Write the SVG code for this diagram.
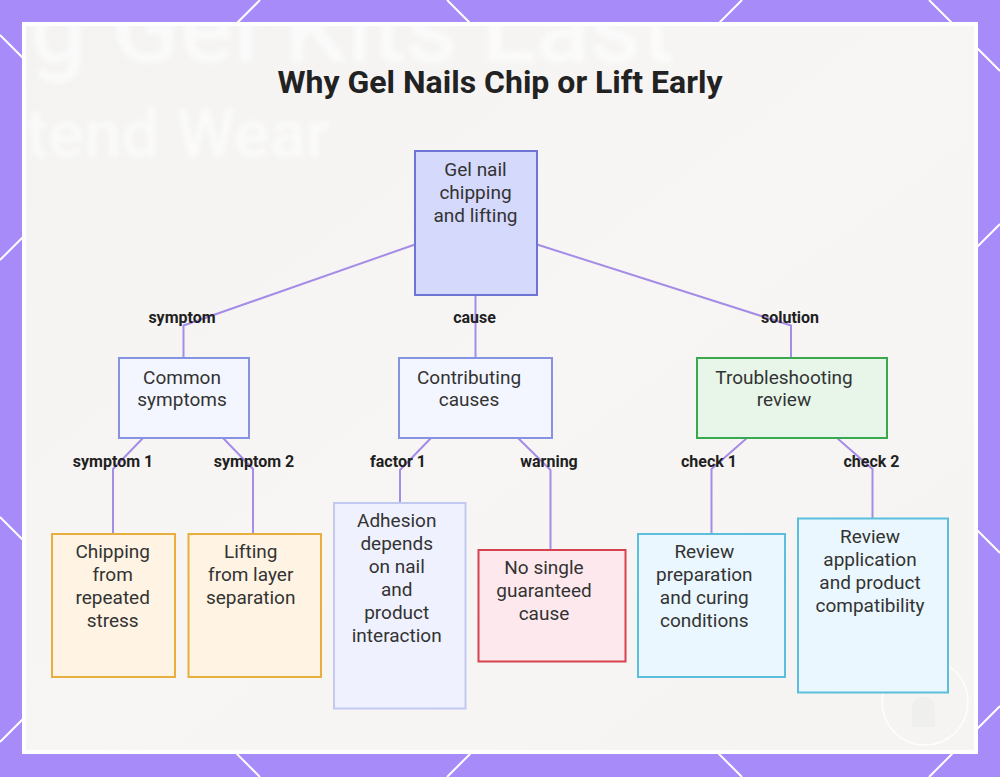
<svg xmlns="http://www.w3.org/2000/svg" width="1000" height="777" viewBox="0 0 1000 777">
<defs>
<style>
.bgline{stroke:#ffffff;stroke-width:2;fill:none}
.node rect{stroke-width:2}
.nt{font-family:Roboto,"Liberation Sans",sans-serif;font-size:19px;fill:#333333;text-anchor:middle}
.lbl{font-family:Roboto,"Liberation Sans",sans-serif;font-size:16px;font-weight:bold;fill:#1f1f1f;text-anchor:middle}
.conn{stroke:#a58ce6;stroke-width:2;fill:none;stroke-linejoin:round}
.root rect{fill:#d5d9fb;stroke:#6d74d6}
.mid rect{fill:#f4f6ff;stroke:#8593e0}
.green rect{fill:#e7f6e9;stroke:#3aa84e}
.amber rect{fill:#fff3e3;stroke:#e8ae3e}
.lav rect{fill:#eff1fe;stroke:#c2caf2}
.red rect{fill:#fde9ed;stroke:#d8424f}
.cyan rect{fill:#eaf7fe;stroke:#5bbfdc}
.ghost{font-family:Roboto,"Liberation Sans",sans-serif;font-weight:500;fill:#ffffff}
</style>
<clipPath id="panelClip"><rect x="26" y="26" width="948" height="724"/></clipPath>
<filter id="soft" x="-5%" y="-20%" width="110%" height="140%"><feGaussianBlur stdDeviation="2.5"/></filter>
<linearGradient id="bgGrad" x1="0" y1="0" x2="1" y2="1">
<stop offset="0" stop-color="#f4f3f2"/>
<stop offset="0.5" stop-color="#f7f6f5"/>
<stop offset="1" stop-color="#f5f4f3"/>
</linearGradient>
</defs>

<g id="background">
<rect x="0" y="0" width="1000" height="777" fill="#a78bf8"/>
<line class="bgline" x1="0" y1="260" x2="260" y2="0"/>
<line class="bgline" x1="0" y1="742" x2="742" y2="0"/>
<line class="bgline" x1="447" y1="777" x2="1000" y2="224"/>
<line class="bgline" x1="929" y1="777" x2="1000" y2="706"/>
<line class="bgline" x1="0" y1="35" x2="742" y2="777"/>
<line class="bgline" x1="0" y1="517" x2="260" y2="777"/>
<line class="bgline" x1="447" y1="0" x2="1000" y2="553"/>
<line class="bgline" x1="929" y1="0" x2="1000" y2="71"/>
<rect x="22" y="22" width="956" height="732" fill="#ffffff"/>
<rect x="26" y="26" width="948" height="724" fill="url(#bgGrad)"/>
<g clip-path="url(#panelClip)" filter="url(#soft)" opacity="0.6">
<text class="ghost" x="30" y="62" font-size="100">g Gel Kits Last</text>
<text class="ghost" x="26" y="157" font-size="67">tend Wear</text>
</g>
<g opacity="0.9">
<circle cx="925" cy="702" r="43" fill="none" stroke="#ffffff" stroke-width="1.5"/>
<path d="M905 690 A22 22 0 0 1 945 690" fill="none" stroke="#ffffff" stroke-width="1.5"/>
<path d="M912 727 V708 A11.5 11.5 0 0 1 935 708 V727 Z" fill="#efefee"/>
</g>
</g>

<text id="title" x="500" y="93" font-family="Roboto,'Liberation Sans',sans-serif" font-size="32" font-weight="bold" fill="#222222" text-anchor="middle">Why Gel Nails Chip or Lift Early</text>

<g id="connectors">
<polyline class="conn" points="415,244.5 183.5,325.5 183.5,358"/>
<polyline class="conn" points="475.5,295 475.5,358"/>
<polyline class="conn" points="537,244.5 791,325.5 791,358"/>
<polyline class="conn" points="143,438 113,469 113,533"/>
<polyline class="conn" points="223,438 253,469 253,533"/>
<polyline class="conn" points="431,438 400,470 400,502"/>
<polyline class="conn" points="518,438 550.5,470 550.5,549"/>
<polyline class="conn" points="747,438 711.5,469 711.5,533"/>
<polyline class="conn" points="837,438 872.5,469 872.5,518"/>
</g>

<g id="edge-labels">
<text class="lbl" x="182" y="323">symptom</text>
<text class="lbl" x="474.5" y="323">cause</text>
<text class="lbl" x="790" y="323">solution</text>
<text class="lbl" x="113" y="467">symptom 1</text>
<text class="lbl" x="254" y="467">symptom 2</text>
<text class="lbl" x="398" y="467">factor 1</text>
<text class="lbl" x="549" y="467">warning</text>
<text class="lbl" x="709" y="467">check 1</text>
<text class="lbl" x="871.5" y="467">check 2</text>
</g>

<g id="node-root" class="node root">
<rect x="415" y="151" width="122" height="144"/>
<text class="nt" x="475.5" y="176">Gel nail</text>
<text class="nt" x="475.5" y="199">chipping</text>
<text class="nt" x="475.5" y="222">and lifting</text>
</g>

<g id="node-symptoms" class="node mid">
<rect x="119" y="358" width="130" height="80"/>
<text class="nt" x="182" y="384">Common</text>
<text class="nt" x="182" y="406">symptoms</text>
</g>

<g id="node-causes" class="node mid">
<rect x="399" y="358" width="153" height="80"/>
<text class="nt" x="469" y="384">Contributing</text>
<text class="nt" x="469" y="406">causes</text>
</g>

<g id="node-review" class="node green">
<rect x="697" y="358" width="190" height="80"/>
<text class="nt" x="784" y="384">Troubleshooting</text>
<text class="nt" x="784" y="406">review</text>
</g>

<g id="node-chipping" class="node amber">
<rect x="52" y="534" width="123" height="143"/>
<text class="nt" x="112.7" y="558.3">Chipping</text>
<text class="nt" x="112.7" y="581.3">from</text>
<text class="nt" x="112.7" y="604.3">repeated</text>
<text class="nt" x="112.7" y="627.3">stress</text>
</g>

<g id="node-lifting" class="node amber">
<rect x="188.5" y="534" width="132.5" height="143"/>
<text class="nt" x="250.7" y="558.3">Lifting</text>
<text class="nt" x="250.7" y="581.3">from layer</text>
<text class="nt" x="250.7" y="604.3">separation</text>
</g>

<g id="node-adhesion" class="node lav">
<rect x="334" y="503" width="131.5" height="205.5"/>
<text class="nt" x="396.7" y="527">Adhesion</text>
<text class="nt" x="396.7" y="550">depends</text>
<text class="nt" x="396.7" y="573">on nail</text>
<text class="nt" x="396.7" y="596">and</text>
<text class="nt" x="396.7" y="619">product</text>
<text class="nt" x="396.7" y="642">interaction</text>
</g>

<g id="node-warning" class="node red">
<rect x="478.5" y="550" width="147" height="111.5"/>
<text class="nt" x="544" y="574">No single</text>
<text class="nt" x="544" y="597">guaranteed</text>
<text class="nt" x="544" y="620">cause</text>
</g>

<g id="node-check1" class="node cyan">
<rect x="638" y="534" width="147" height="143"/>
<text class="nt" x="704.3" y="558.3">Review</text>
<text class="nt" x="704.3" y="581.3">preparation</text>
<text class="nt" x="704.3" y="604.3">and curing</text>
<text class="nt" x="704.3" y="627.3">conditions</text>
</g>

<g id="node-check2" class="node cyan">
<rect x="798" y="518.5" width="150" height="174"/>
<text class="nt" x="870" y="542.5">Review</text>
<text class="nt" x="870" y="565.5">application</text>
<text class="nt" x="870" y="588.5">and product</text>
<text class="nt" x="870" y="611.5">compatibility</text>
</g>
</svg>
